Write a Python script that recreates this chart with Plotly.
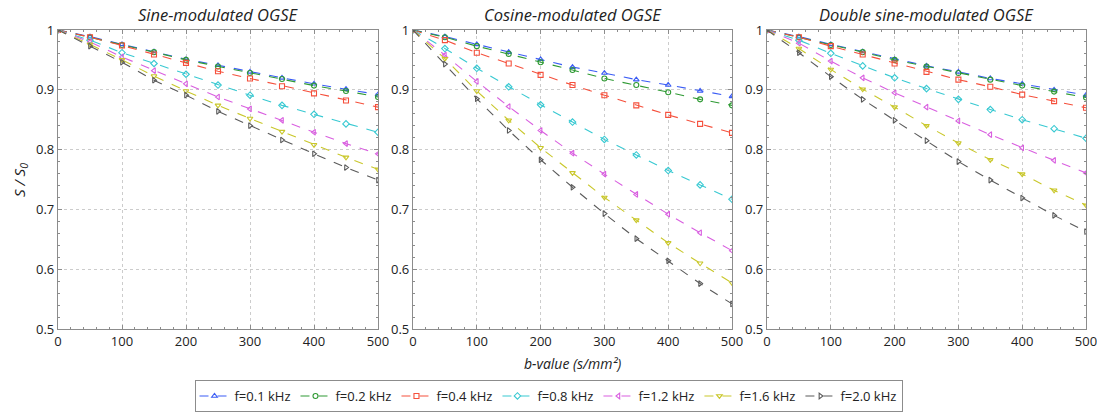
import plotly.graph_objects as go

b_values = [0, 50, 100, 150, 200, 250, 300, 350, 400, 450, 500]
freq_labels = ["f=0.1 kHz", "f=0.2 kHz", "f=0.4 kHz", "f=0.8 kHz", "f=1.2 kHz", "f=1.6 kHz", "f=2.0 kHz"]
panel_titles = ["Sine-modulated OGSE", "Cosine-modulated OGSE", "Double sine-modulated OGSE"]

sine_values = [
    [1, 0.989, 0.976, 0.964, 0.951, 0.941, 0.930, 0.920, 0.910, 0.901, 0.892],
    [1, 0.988, 0.975, 0.963, 0.950, 0.939, 0.928, 0.918, 0.907, 0.898, 0.888],
    [1, 0.988, 0.974, 0.959, 0.945, 0.931, 0.919, 0.906, 0.894, 0.882, 0.871],
    [1, 0.983, 0.962, 0.944, 0.926, 0.908, 0.891, 0.874, 0.859, 0.843, 0.829],
    [1, 0.980, 0.955, 0.932, 0.910, 0.888, 0.868, 0.849, 0.829, 0.810, 0.793],
    [1, 0.976, 0.950, 0.923, 0.898, 0.874, 0.852, 0.830, 0.808, 0.787, 0.767],
    [1, 0.973, 0.946, 0.916, 0.891, 0.864, 0.840, 0.816, 0.793, 0.770, 0.749],
]
cosine_values = [
    [1, 0.989, 0.976, 0.963, 0.951, 0.938, 0.928, 0.917, 0.908, 0.898, 0.889],
    [1, 0.988, 0.973, 0.960, 0.946, 0.933, 0.919, 0.908, 0.896, 0.884, 0.874],
    [1, 0.983, 0.962, 0.944, 0.925, 0.908, 0.891, 0.874, 0.858, 0.843, 0.828],
    [1, 0.969, 0.936, 0.905, 0.875, 0.846, 0.817, 0.791, 0.765, 0.741, 0.717],
    [1, 0.958, 0.914, 0.872, 0.832, 0.794, 0.759, 0.725, 0.692, 0.661, 0.631],
    [1, 0.952, 0.898, 0.849, 0.803, 0.761, 0.720, 0.682, 0.644, 0.610, 0.577],
    [1, 0.943, 0.885, 0.832, 0.783, 0.737, 0.693, 0.651, 0.614, 0.576, 0.542],
]
double_sine_values = [
    [1, 0.989, 0.976, 0.964, 0.951, 0.940, 0.930, 0.919, 0.910, 0.900, 0.891],
    [1, 0.988, 0.975, 0.963, 0.950, 0.939, 0.928, 0.917, 0.907, 0.897, 0.887],
    [1, 0.988, 0.973, 0.959, 0.944, 0.930, 0.917, 0.905, 0.892, 0.881, 0.870],
    [1, 0.983, 0.961, 0.940, 0.920, 0.902, 0.884, 0.867, 0.850, 0.835, 0.819],
    [1, 0.978, 0.948, 0.920, 0.895, 0.871, 0.848, 0.825, 0.803, 0.782, 0.761],
    [1, 0.969, 0.934, 0.901, 0.871, 0.840, 0.811, 0.783, 0.759, 0.732, 0.707],
    [1, 0.962, 0.922, 0.884, 0.849, 0.815, 0.780, 0.749, 0.719, 0.690, 0.663],
]

colors = ["#3a5cf5", "#2f9a34", "#f5503c", "#38c9d2", "#d95fe0", "#c9c72a", "#5a5a5a"]
symbols = ["triangle-up-open", "circle-open", "square-open", "diamond-open",
           "triangle-left-open", "triangle-down-open", "triangle-right-open"]

W, H = 1097, 414
x_px = [(58, 378), (413, 732), (767, 1086)]
y_top, y_bot = 30, 329
FONT = "Open Sans"

fig = go.Figure()
panels = [sine_values, cosine_values, double_sine_values]
for p, vals in enumerate(panels):
    xa = "x" if p == 0 else f"x{p+1}"
    ya = "y" if p == 0 else f"y{p+1}"
    for i, series in enumerate(vals):
        fig.add_trace(go.Scatter(
            x=b_values, y=series, mode="lines+markers", name=freq_labels[i],
            xaxis=xa, yaxis=ya, showlegend=(p == 0), legendgroup=freq_labels[i],
            line=dict(color=colors[i], width=1.1, dash="dash"),
            marker=dict(symbol=symbols[i], size=5, color=colors[i], line=dict(width=1.1, color=colors[i])),
        ))

axis_common = dict(
    showline=True, linecolor="#8c8c8c", linewidth=1.3, mirror="ticks",
    ticks="inside", ticklen=4, tickcolor="#8c8c8c", automargin=False,
    ticklabeloverflow="allow",
    showgrid=True, gridcolor="#cccccc", griddash="dot", gridwidth=1,
    zeroline=False, tickfont=dict(family=FONT, size=13, color="#222222"),
)

layout = dict(
    width=W, height=H, margin=dict(l=0, r=0, t=0, b=0, autoexpand=False),
    paper_bgcolor="white", plot_bgcolor="white",
    font=dict(family=FONT, size=13, color="#222222"),
    legend=dict(orientation="h", x=0.5, xanchor="center", y=(H - 412) / H, yanchor="bottom",
                bordercolor="#8c8c8c", borderwidth=1, font=dict(family=FONT, size=13, color="#222222"),
                itemwidth=30, tracegroupgap=0),
    annotations=[],
)
for p in range(3):
    xk = "xaxis" if p == 0 else f"xaxis{p+1}"
    yk = "yaxis" if p == 0 else f"yaxis{p+1}"
    ya = "y" if p == 0 else f"y{p+1}"
    xa = "x" if p == 0 else f"x{p+1}"
    layout[xk] = dict(axis_common, domain=[x_px[p][0] / W, x_px[p][1] / W], range=[0, 500],
                      tickvals=[0, 100, 200, 300, 400, 500], anchor=ya,
                      minor=dict(ticks="inside", dtick=20, ticklen=2, tickcolor="#8c8c8c", showgrid=False))
    layout[yk] = dict(axis_common, domain=[1 - y_bot / H, 1 - y_top / H], range=[0.5, 1],
                      tickvals=[0.5, 0.6, 0.7, 0.8, 0.9, 1.0], ticktext=["0.5", "0.6", "0.7", "0.8", "0.9", "1"],
                      anchor=xa,
                      minor=dict(ticks="inside", dtick=0.02, ticklen=2, tickcolor="#8c8c8c", showgrid=False))
    layout["annotations"].append(dict(
        text=f"<i>{panel_titles[p]}</i>", x=(x_px[p][0] + x_px[p][1]) / 2 / W, y=1 - 14 / H,
        xref="paper", yref="paper", xanchor="center", yanchor="middle", showarrow=False,
        font=dict(family=FONT, size=16.5, color="#222222")))

layout["annotations"].append(dict(
    text="<i>b-value (s/mm²)</i>", x=572 / W, y=1 - 363 / H, xref="paper", yref="paper",
    xanchor="center", yanchor="middle", showarrow=False, font=dict(family=FONT, size=14, color="#222222")))
layout["annotations"].append(dict(
    text="<i>S / S<sub>0</sub></i>", x=20 / W, y=1 - 180 / H, xref="paper", yref="paper",
    xanchor="center", yanchor="middle", showarrow=False, textangle=-90,
    font=dict(family=FONT, size=15, color="#222222")))

fig.update_layout(**layout)
fig.write_html("out.html")
